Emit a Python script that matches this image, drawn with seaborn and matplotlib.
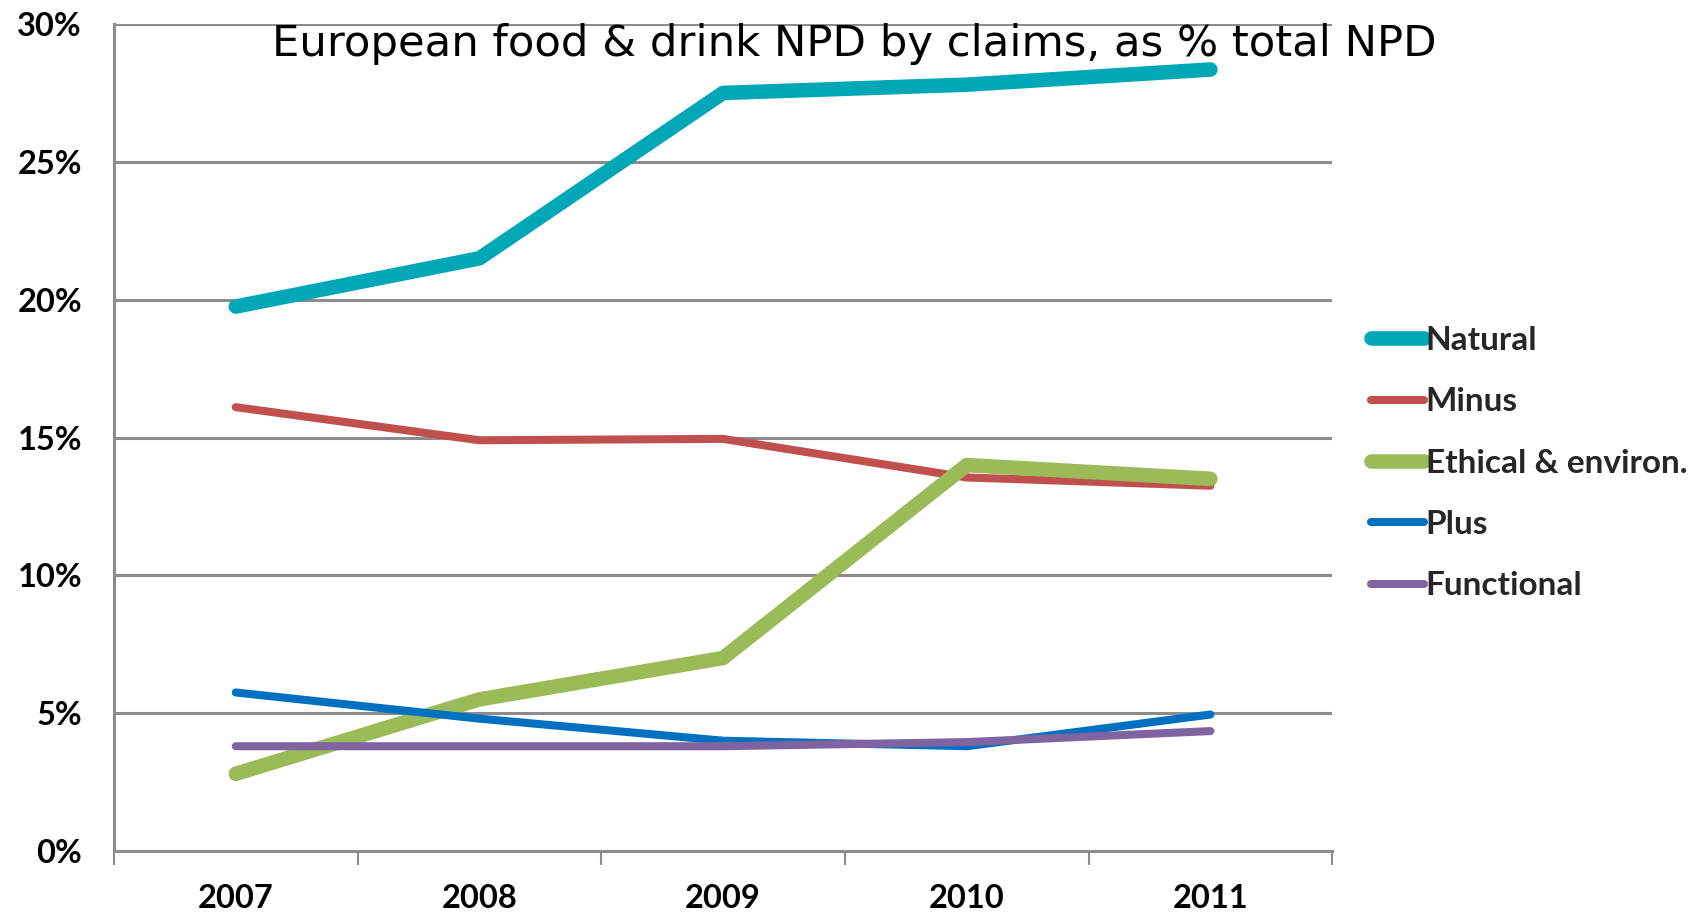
import matplotlib
matplotlib.use("Agg")
import matplotlib.pyplot as plt
import seaborn as sns
import pandas as pd

# Share of European food & drink new product development by claim type (%)
years = ["2007", "2008", "2009", "2010", "2011"]
natural = [19.75, 21.5, 27.5, 27.8, 28.35]
minus = [16.1, 14.9, 14.95, 13.55, 13.25]
ethical = [2.8, 5.5, 7.0, 14.0, 13.5]
plus = [5.75, 4.8, 4.0, 3.8, 4.95]
functional = [3.8, 3.8, 3.8, 3.95, 4.35]

series_names = ["Natural", "Minus", "Ethical & environ.", "Plus", "Functional"]
series_values = [natural, minus, ethical, plus, functional]
colors = ["#00A7B7", "#C0504D", "#9BBB59", "#0070C0", "#8064A2"]
widths = [10.5, 5.8, 10.5, 5.8, 5.8]

yticks = [0, 5, 10, 15, 20, 25, 30]
ytick_labels = ["0%", "5%", "10%", "15%", "20%", "25%", "30%"]

sns.set_theme(style="white")
plt.rcParams["font.family"] = ["Lato", "DejaVu Sans"]

df = pd.DataFrame(
    [(i, v, name) for name, vals in zip(series_names, series_values)
     for i, v in enumerate(vals)],
    columns=["pos", "value", "claim"],
)

fig = plt.figure(figsize=(17.08, 9.17), dpi=100)
ax = fig.add_axes([0.0667, 0.072, 0.7133, 0.9018])

for name, color, lw in zip(series_names, colors, widths):
    sub = df[df["claim"] == name]
    sns.lineplot(data=sub, x="pos", y="value", ax=ax, color=color,
                 linewidth=lw, solid_capstyle="round", solid_joinstyle="round",
                 label=name, legend=False)

grid_color = "#8C8C8C"
ax.set_xlim(-0.5, 4.5)
ax.set_ylim(0, 30)
ax.set_yticks(yticks)
ax.set_yticklabels(ytick_labels)
ax.set_xticks(range(len(years)))
ax.set_xticklabels(years)
ax.set_xticks([i + 0.5 for i in range(-1, len(years))], minor=True)
ax.set_xlabel("")
ax.set_ylabel("")

for y in yticks[1:]:
    ax.axhline(y, color=grid_color, linewidth=2.2, zorder=0.5)

for side in ["top", "right"]:
    ax.spines[side].set_visible(False)
for side in ["left", "bottom"]:
    ax.spines[side].set_color(grid_color)
    ax.spines[side].set_linewidth(2.2)

ax.tick_params(axis="y", which="major", direction="out", length=10,
               width=2.2, color=grid_color, pad=13, labelsize=23.5)
ax.tick_params(axis="x", which="major", length=0, pad=24, labelsize=23.5)
ax.tick_params(axis="x", which="minor", direction="out", length=10,
               width=1.5, color=grid_color, bottom=True)
for lbl in ax.get_yticklabels() + ax.get_xticklabels():
    lbl.set_fontweight("bold")
    lbl.set_color("black")

fig.text(0.5, 0.952, "European food & drink NPD by claims, as % total NPD",
         ha="center", va="center", fontsize=31.2, family="DejaVu Sans",
         color="black")

handles, labels = ax.get_legend_handles_labels()
leg = fig.legend(handles, labels, loc="center left",
                 bbox_to_anchor=(0.785, 0.495), frameon=False,
                 prop={"family": ["Lato", "DejaVu Sans"], "weight": "bold",
                       "size": 24},
                 handlelength=1.6, handletextpad=0.05, labelspacing=0.97)
for line in leg.get_lines():
    line.set_solid_capstyle("round")

fig.savefig("out.png", dpi=100)
